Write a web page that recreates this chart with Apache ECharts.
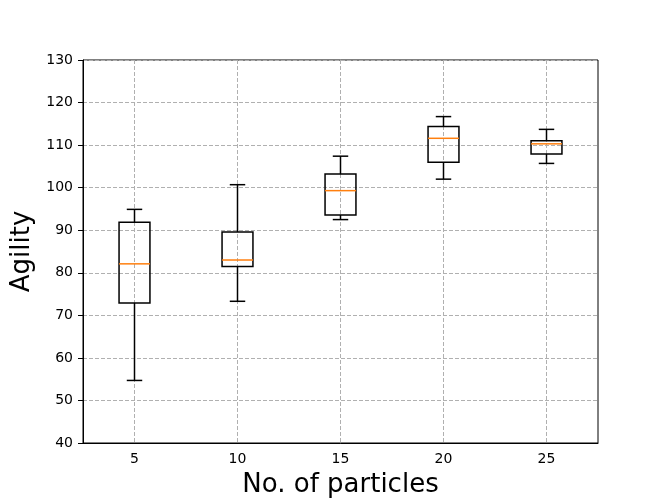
<!DOCTYPE html>
<html>
<head>
<meta charset="utf-8">
<script src="https://cdn.jsdelivr.net/npm/echarts@6/dist/echarts.min.js"></script>
<style>
  html, body { margin: 0; padding: 0; background: #fff; }
  #chart { width: 664px; height: 498px; }
</style>
</head>
<body>
<div id="chart"></div>
<script>
// box stats
const particles = ['5', '10', '15', '20', '25'];
const whiskerLow = [54.7, 73.3, 92.5, 102.0, 105.7];
const q1 = [72.9, 81.5, 93.6, 106.0, 107.9];
const medians = [82.1, 83.0, 99.3, 111.6, 110.3];
const q3 = [91.9, 89.6, 103.2, 114.4, 111.0];
const whiskerHigh = [94.9, 100.7, 107.4, 116.7, 113.7];
const yTicks = [40, 50, 60, 70, 80, 90, 100, 110, 120, 130];

const font = 'DejaVu Sans';
const boxData = particles.map((p, i) => [i, whiskerLow[i], q1[i], medians[i], q3[i], whiskerHigh[i]]);

const chart = echarts.init(document.getElementById('chart'));

function renderBox(params, api) {
  const i = api.value(0);
  const band = api.size([1, 0])[0];
  const half = band * 0.15;   // box half width
  const cap = band * 0.075;   // whisker cap half width
  const pLow = api.coord([i, api.value(1)]);
  const pQ1 = api.coord([i, api.value(2)]);
  const pMed = api.coord([i, api.value(3)]);
  const pQ3 = api.coord([i, api.value(4)]);
  const pHigh = api.coord([i, api.value(5)]);
  const cx = pMed[0];
  const black = { stroke: '#000', lineWidth: 1.5, fill: null };
  return {
    type: 'group',
    children: [
      { type: 'line', shape: { x1: cx, y1: pLow[1], x2: cx, y2: pQ1[1] }, style: black },
      { type: 'line', shape: { x1: cx, y1: pQ3[1], x2: cx, y2: pHigh[1] }, style: black },
      { type: 'line', shape: { x1: cx - cap, y1: pLow[1], x2: cx + cap, y2: pLow[1] }, style: black },
      { type: 'line', shape: { x1: cx - cap, y1: pHigh[1], x2: cx + cap, y2: pHigh[1] }, style: black },
      { type: 'rect', shape: { x: cx - half, y: pQ3[1], width: half * 2, height: pQ1[1] - pQ3[1] },
        style: { stroke: '#000', lineWidth: 1.5, fill: 'rgba(0,0,0,0)' } },
      { type: 'line', shape: { x1: cx - half, y1: pMed[1], x2: cx + half, y2: pMed[1] },
        style: { stroke: '#ff7f0e', lineWidth: 1.5 } }
    ]
  };
}

const option = {
  animation: false,
  backgroundColor: '#fff',
  textStyle: { fontFamily: font },
  grid: {
    left: 83, top: 60, width: 515, height: 383,
    outerBoundsMode: 'none',
    containLabel: false,
    show: true, borderColor: '#000', borderWidth: 1, backgroundColor: 'transparent'
  },
  xAxis: {
    type: 'category',
    data: particles,
    name: 'No. of particles',
    nameLocation: 'middle',
    nameGap: 29,
    nameTextStyle: { fontSize: 26, color: '#000', fontFamily: font },
    axisLine: { lineStyle: { color: '#000', width: 1 } },
    axisTick: { alignWithLabel: true, length: 5, lineStyle: { color: '#000' } },
    axisLabel: { fontSize: 14, color: '#000', margin: 9, fontFamily: font },
    splitLine: { show: true, alignWithLabel: true, lineStyle: { color: '#b0b0b0', type: [4, 2], width: 1 } }
  },
  yAxis: {
    type: 'value',
    min: yTicks[0],
    max: yTicks[yTicks.length - 1],
    interval: 10,
    name: 'Agility',
    nameLocation: 'middle',
    nameGap: 45,
    nameTextStyle: { fontSize: 26, color: '#000', fontFamily: font },
    axisLine: { show: true, lineStyle: { color: '#000', width: 1 } },
    axisTick: { show: true, length: 5, lineStyle: { color: '#000' } },
    axisLabel: { fontSize: 14, color: '#000', margin: 10, fontFamily: font },
    splitLine: { show: true, lineStyle: { color: '#b0b0b0', type: [4, 2], width: 1 } }
  },
  series: [{
    type: 'custom',
    renderItem: renderBox,
    encode: { x: 0, y: [1, 2, 3, 4, 5] },
    data: boxData,
    z: 5
  }]
};

chart.setOption(option);
</script>
</body>
</html>
